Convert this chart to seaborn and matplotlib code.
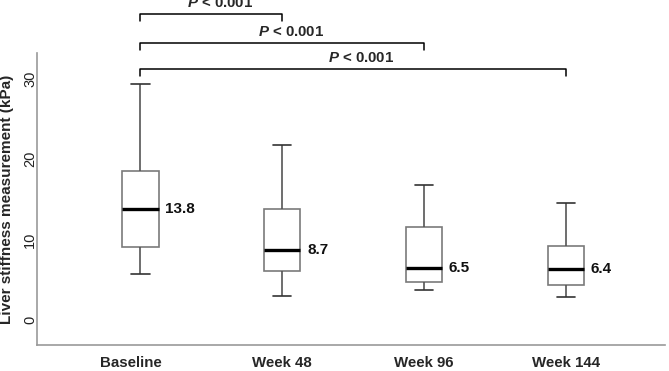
import numpy as np
import pandas as pd
import matplotlib
matplotlib.use('Agg')
import matplotlib.pyplot as plt
import matplotlib.transforms as mtransforms
import seaborn as sns

sns.set_style("white")
plt.rcParams['font.family'] = ['Liberation Sans', 'DejaVu Sans']
plt.rcParams['mathtext.fontset'] = 'custom'
plt.rcParams['mathtext.it'] = 'Liberation Sans:italic:bold'

# five-number summaries: low whisker, Q1, median, Q3, high whisker
groups = ['Baseline', 'Week 48', 'Week 96', 'Week 144']
low = [5.7, 3.0, 3.7, 2.9]
q1 = [9.1, 6.1, 4.7, 4.4]
med = [13.8, 8.7, 6.5, 6.4]
q3 = [18.5, 13.8, 11.6, 9.2]
high = [29.4, 21.8, 16.8, 14.5]
median_labels = ['13.8', '8.7', '6.5', '6.4']

# comparisons against baseline
comparisons = [(0, 1), (0, 2), (0, 3)]
p_labels = ['$P$ < 0.001', '$P$ < 0.001', '$P$ < 0.001']
bracket_y = [38.1, 34.5, 31.2]

rows = []
for g, a, b, c, d, e in zip(groups, low, q1, med, q3, high):
    for v in (a, b, c, d, e):
        rows.append({'group': g, 'lsm': v})
df = pd.DataFrame(rows)

fig = plt.figure(figsize=(6.69, 3.71), dpi=100)
ax = fig.add_axes([37 / 669, 26 / 371, 628 / 669, 345 / 371])

sns.boxplot(data=df, x='group', y='lsm', order=groups, whis=(0, 100),
            width=0.255, color='white', linewidth=1.2, ax=ax,
            boxprops=dict(edgecolor='#7a7a7a', facecolor='white'),
            whiskerprops=dict(color='#555555'),
            capprops=dict(color='#333333'),
            medianprops=dict(color='black', linewidth=2.4))

for i, lab in enumerate(median_labels):
    ax.text(i + 0.175, med[i], lab, ha='left', va='center',
            fontsize=11, fontweight='bold', color='#111111')

for (a, b), lab, y in zip(comparisons, p_labels, bracket_y):
    ax.plot([a, a, b, b], [y - 0.9, y, y, y - 0.9], color='black', lw=1.1,
            clip_on=False)
    ax.text((a + b) / 2 + 0.06, y + 0.5, lab, ha='center', va='bottom',
            fontsize=10.8, fontweight='bold')

ax.set_xlim(-0.73, 3.70)
ax.set_ylim(-3.1, 39.8)
ax.set_yticks([0, 10, 20, 30])
ax.set_yticklabels(['0', '10', '20', '30'], rotation=90, va='center',
                   ha='center', fontsize=10.5, color='#222222')
ax.tick_params(axis='y', length=0, pad=5)
ax.tick_params(axis='x', length=0, pad=8)
for lbl in ax.get_xticklabels():
    lbl.set_fontweight('bold')
    lbl.set_fontsize(10.8)
# the baseline label sits a little left of its box
first = ax.get_xticklabels()[0]
first.set_transform(first.get_transform() +
                    mtransforms.ScaledTranslation(-0.1, 0, fig.dpi_scale_trans))
ax.set_xlabel('')
ax.set_ylabel('Liver stiffness measurement (kPa)', fontsize=11,
              fontweight='bold')
ax.yaxis.set_label_coords(-0.036, (345 - 199) / 345)

for s in ['top', 'right']:
    ax.spines[s].set_visible(False)
ax.spines['left'].set_bounds(-3.1, 33.2)
ax.spines['left'].set_color('#999999')
ax.spines['bottom'].set_color('#999999')
ax.spines['left'].set_linewidth(1.2)
ax.spines['bottom'].set_linewidth(1.2)

fig.savefig('out.png', dpi=100)
plt.close(fig)
